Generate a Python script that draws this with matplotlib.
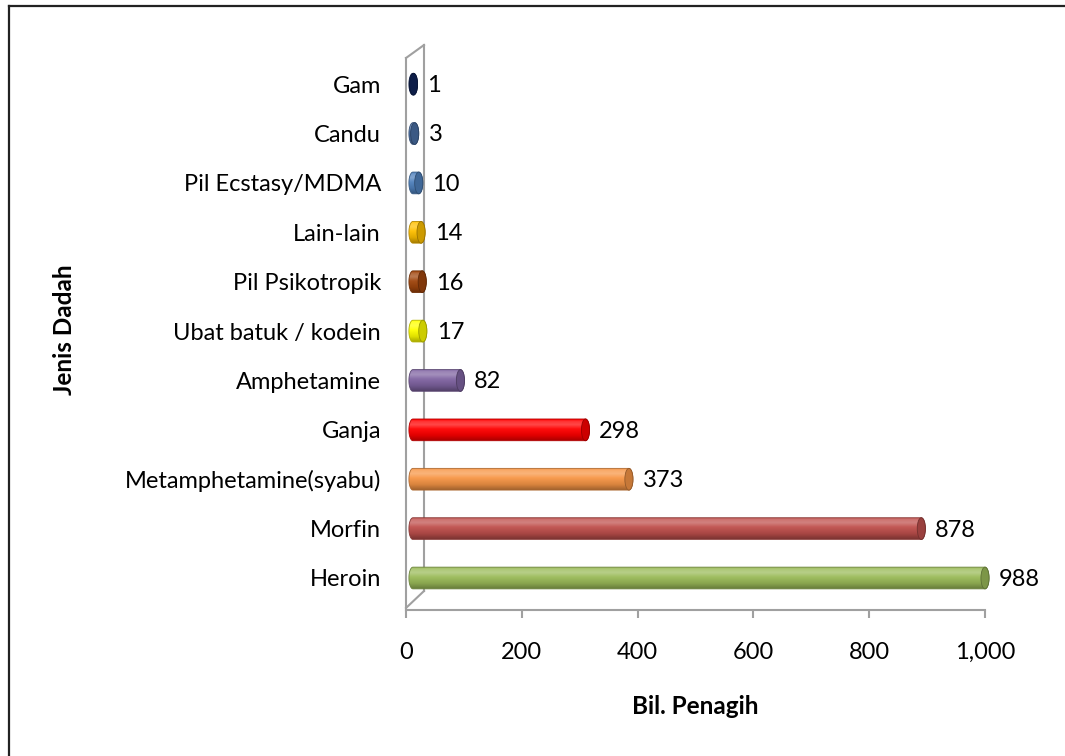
import numpy as np
import matplotlib.pyplot as plt
from matplotlib.patches import PathPatch, Ellipse
from matplotlib.path import Path
from matplotlib.lines import Line2D
from matplotlib.colors import to_rgb
from matplotlib.ticker import FuncFormatter

plt.rcParams['font.family'] = ['Lato', 'DejaVu Sans']

# Data (bottom to top)
categories = ["Heroin", "Morfin", "Metamphetamine(syabu)", "Ganja", "Amphetamine",
              "Ubat batuk / kodein", "Pil Psikotropik", "Lain-lain",
              "Pil Ecstasy/MDMA", "Candu", "Gam"]
values = [988, 878, 373, 298, 82, 17, 16, 14, 10, 3, 1]
colors = ["#9bbb59", "#c0504d", "#f79646", "#ff0000", "#8064a2", "#ffff00",
          "#a0450c", "#ffc000", "#4f81bd", "#4a6fa5", "#10245a"]
x_ticks = [0, 200, 400, 600, 800, 1000]

GRAY = "#a0a0a0"
W, H = 1065, 756
FS = 17


def shade(c, f):
    # f > 0 lightens toward white, f < 0 darkens toward black
    r = np.array(to_rgb(c))
    if f >= 0:
        return r + (1 - r) * f
    return r * (1 + f)


def cylinder_path(x0, x1, yc, hh, a, n=40):
    # outline of a horizontal cylinder: half ellipse on each end
    t = np.linspace(np.pi / 2, 3 * np.pi / 2, n)
    left = np.column_stack([x0 + a * np.cos(t), yc + hh * np.sin(t)])
    t2 = np.linspace(-np.pi / 2, np.pi / 2, n)
    right = np.column_stack([x1 + a * np.cos(t2), yc + hh * np.sin(t2)])
    verts = np.vstack([left, right, left[:1]])
    codes = [Path.MOVETO] + [Path.LINETO] * (len(verts) - 2) + [Path.CLOSEPOLY]
    return Path(verts, codes)


fig = plt.figure(figsize=(W / 100, H / 100), dpi=100)
# axes extends past 1,000 so the longest bar and its label are not clipped
xmax = 1100
ax_w = 579 * xmax / 1000
ax = fig.add_axes([406 / W, 1 - 610 / H, ax_w / W, 552 / H])

depth = 12      # bars sit a bit behind the front plane
cap = 7         # half width of the end ellipse (data units)
hh = 0.22       # half height of each cylinder

# vertical shading of the cylinder body
stops = np.array([0.0, 0.25, 0.55, 0.75, 0.9, 1.0])
facs = [-0.35, -0.12, 0.05, 0.28, 0.2, 0.0]
grad_pos = np.linspace(0, 1, 64)

for i, (v, c) in enumerate(zip(values, colors)):
    x0, x1 = depth, depth + v
    cols = np.array([shade(c, f) for f in facs])
    img = np.stack([np.interp(grad_pos, stops, cols[:, k]) for k in range(3)], axis=1)
    img = img[:, None, :]
    patch = PathPatch(cylinder_path(x0, x1, i, hh, cap), facecolor="none",
                      edgecolor=shade(c, -0.3), lw=0.6, zorder=3)
    ax.add_patch(patch)
    im = ax.imshow(img, origin="lower", aspect="auto", zorder=2,
                   extent=[x0 - cap, x1 + cap, i - hh, i + hh], interpolation="bilinear")
    im.set_clip_path(patch)
    ax.add_patch(Ellipse((x1, i), 2 * cap, 2 * hh, facecolor=shade(c, -0.2),
                         edgecolor=shade(c, -0.4), lw=0.6, zorder=4))
    ax.annotate(str(v), (x1 + cap, i), xytext=(7, -1), textcoords="offset points",
                ha="left", va="center", fontsize=FS, color="black")

ax.set_xlim(0, xmax)
ax.set_ylim(-0.648, 10.53)
ax.set_xticks(x_ticks)
ax.xaxis.set_major_formatter(FuncFormatter(lambda x, p: f"{int(x):,}"))
ax.set_yticks(range(len(categories)))
ax.set_yticklabels(categories)
ax.tick_params(axis="x", direction="out", length=6, width=1.5, color=GRAY,
               pad=17, labelsize=FS)
ax.tick_params(axis="y", length=0, pad=18, labelsize=FS)

for s in ["top", "right"]:
    ax.spines[s].set_visible(False)
for s in ["left", "bottom"]:
    ax.spines[s].set_color(GRAY)
    ax.spines[s].set_linewidth(1.5)
ax.spines["bottom"].set_bounds(0, 1000)

# 3D back wall outline (offset 18 px right, 13 px up)
fx = 18 / ax_w
wall = dict(color=GRAY, lw=1.5, clip_on=False, zorder=1, transform=ax.transAxes)
ax.add_line(Line2D([fx, fx], [19 / 552, 1 + 13 / 552], **wall))
ax.add_line(Line2D([0, fx], [1, 1 + 13 / 552], **wall))
ax.add_line(Line2D([0, fx], [2 / 552, 19 / 552], **wall))

fig.text(695 / W, 1 - 706 / H, "Bil. Penagih", ha="center", va="center",
         fontsize=17.5, fontweight="bold")
fig.text(65 / W, 1 - 330 / H, "Jenis Dadah", ha="center", va="center",
         fontsize=17.5, fontweight="bold", rotation=90)

# chart frame (top and left edges visible)
fig.add_artist(Line2D([9 / W, 9 / W], [0, 1 - 6 / H], transform=fig.transFigure,
                      color="#222222", lw=1.6))
fig.add_artist(Line2D([9 / W, 1], [1 - 6 / H, 1 - 6 / H], transform=fig.transFigure,
                      color="#222222", lw=1.6))

fig.savefig("out.png", dpi=100)
